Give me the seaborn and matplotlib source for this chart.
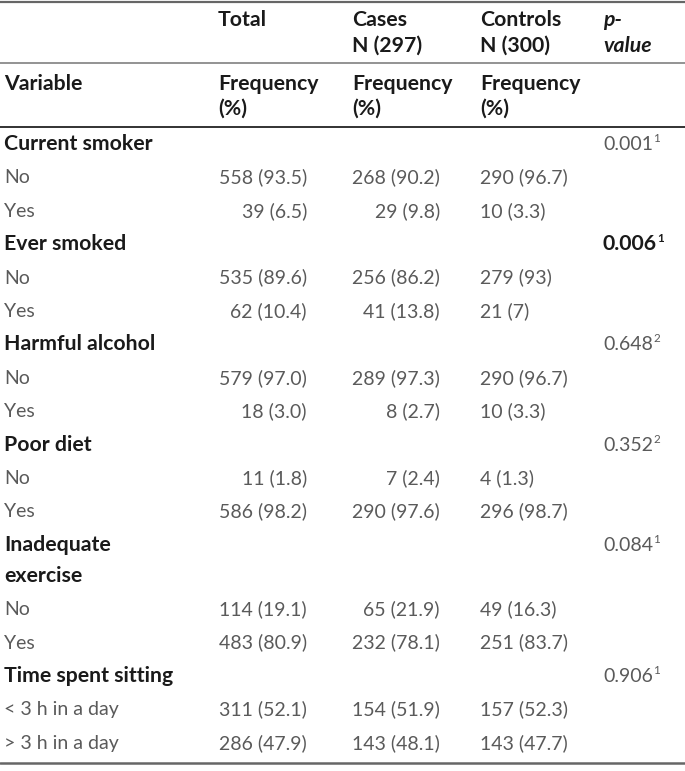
import matplotlib
matplotlib.use("Agg")
import matplotlib.pyplot as plt
import seaborn as sns

# ---------------- data ----------------
variables = ["Current smoker", "Ever smoked", "Harmful alcohol", "Poor diet",
             "Inadequate\nexercise", "Time spent sitting"]
levels = [["No", "Yes"], ["No", "Yes"], ["No", "Yes"], ["No", "Yes"],
          ["No", "Yes"], ["< 3 h in a day", "> 3 h in a day"]]
total_n = [[558, 39], [535, 62], [579, 18], [11, 586], [114, 483], [311, 286]]
total_pct = [["93.5", "6.5"], ["89.6", "10.4"], ["97.0", "3.0"], ["1.8", "98.2"],
             ["19.1", "80.9"], ["52.1", "47.9"]]
cases_n = [[268, 29], [256, 41], [289, 8], [7, 290], [65, 232], [154, 143]]
cases_pct = [["90.2", "9.8"], ["86.2", "13.8"], ["97.3", "2.7"], ["2.4", "97.6"],
             ["21.9", "78.1"], ["51.9", "48.1"]]
controls_n = [[290, 10], [279, 21], [290, 10], [4, 296], [49, 251], [157, 143]]
controls_pct = [["96.7", "3.3"], ["93", "7"], ["96.7", "3.3"], ["1.3", "98.7"],
                ["16.3", "83.7"], ["52.3", "47.7"]]
p_values = ["0.001", "0.006", "0.648", "0.352", "0.084", "0.906"]
p_tests = ["1", "1", "2", "2", "1", "1"]
p_bold = [False, True, False, False, False, False]
col_headers = ["Total", "Cases\nN (297)", "Controls\nN (300)"]
sub_header = "Frequency\n(%)"

# ---------------- style ----------------
sns.set_theme(style="white")
plt.rcParams['font.family'] = ['Lato', 'DejaVu Sans']

W, H = 685, 771
fig = plt.figure(figsize=(W / 100, H / 100), dpi=100)
ax = fig.add_axes([0, 0, 1, 1])
ax.set_xlim(0, W)
ax.set_ylim(H, 0)
ax.axis("off")

FS_B = 15.3
FS = 14.0
DATA_C = "#5a5a5a"
HEAD_C = "#1a1a1a"
DATA_W = "normal"

x_var = 4
x_total_r = 307
x_cases_r = 440
x_ctrl_l = 480
x_p_l = 603
x_head = [218, 352, 480]

# rules
ax.plot([0, W], [1.5, 1.5], color="#666666", lw=1.6)
ax.plot([0, W], [63, 63], color="#8a8a8a", lw=1.3)
ax.plot([0, W], [127, 127], color="#222222", lw=1.3)
ax.plot([0, W], [763, 763], color="#666666", lw=1.8)

# header
line_gap = 26
for x, txt in zip(x_head, col_headers):
    for k, part in enumerate(txt.split("\n")):
        ax.text(x, 26 + k * line_gap, part, ha="left", va="baseline",
                fontsize=FS_B, fontweight="bold", color=HEAD_C)
ax.text(x_p_l, 26, "p-", ha="left", va="baseline", fontsize=FS_B,
        fontweight="bold", style="italic", color=HEAD_C)
ax.text(x_p_l, 26 + line_gap, "value", ha="left", va="baseline", fontsize=FS_B,
        fontweight="bold", style="italic", color=HEAD_C)
ax.text(x_var, 90, "Variable", ha="left", va="baseline", fontsize=FS_B,
        fontweight="bold", color=HEAD_C)
for x in x_head:
    for k, part in enumerate(sub_header.split("\n")):
        ax.text(x, 90 + k * 25, part, ha="left", va="baseline",
                fontsize=FS_B, fontweight="bold", color=HEAD_C)

fig.canvas.draw()
renderer = fig.canvas.get_renderer()
inv = ax.transData.inverted()

# body
y = 150.0
step = 33.4
for i, var in enumerate(variables):
    parts = var.split("\n")
    for k, part in enumerate(parts):
        ax.text(x_var, y + k * 31, part, ha="left", va="baseline", fontsize=FS_B,
                fontweight="bold", color=HEAD_C)
    pt = ax.text(x_p_l, y, p_values[i], ha="left", va="baseline",
                 fontsize=FS_B if p_bold[i] else FS,
                 fontweight="bold" if p_bold[i] else DATA_W,
                 color=HEAD_C if p_bold[i] else DATA_C)
    bb = pt.get_window_extent(renderer=renderer)
    xs, _ = inv.transform((bb.x1 + 0.5, bb.y0))
    ax.text(xs, y - 8, p_tests[i], ha="left", va="baseline", fontsize=FS * 0.6,
            fontweight="bold" if p_bold[i] else DATA_W,
            color=HEAD_C if p_bold[i] else DATA_C)
    y += step + (len(parts) - 1) * 31
    for j, lev in enumerate(levels[i]):
        ax.text(x_var, y, lev, ha="left", va="baseline", fontsize=FS,
                fontweight=DATA_W, color=DATA_C)
        ax.text(x_total_r, y, f"{total_n[i][j]} ({total_pct[i][j]})", ha="right",
                va="baseline", fontsize=FS, fontweight=DATA_W, color=DATA_C)
        ax.text(x_cases_r, y, f"{cases_n[i][j]} ({cases_pct[i][j]})", ha="right",
                va="baseline", fontsize=FS, fontweight=DATA_W, color=DATA_C)
        ax.text(x_ctrl_l, y, f"{controls_n[i][j]} ({controls_pct[i][j]})", ha="left",
                va="baseline", fontsize=FS, fontweight=DATA_W, color=DATA_C)
        y += step

fig.savefig("out.png", dpi=100)
